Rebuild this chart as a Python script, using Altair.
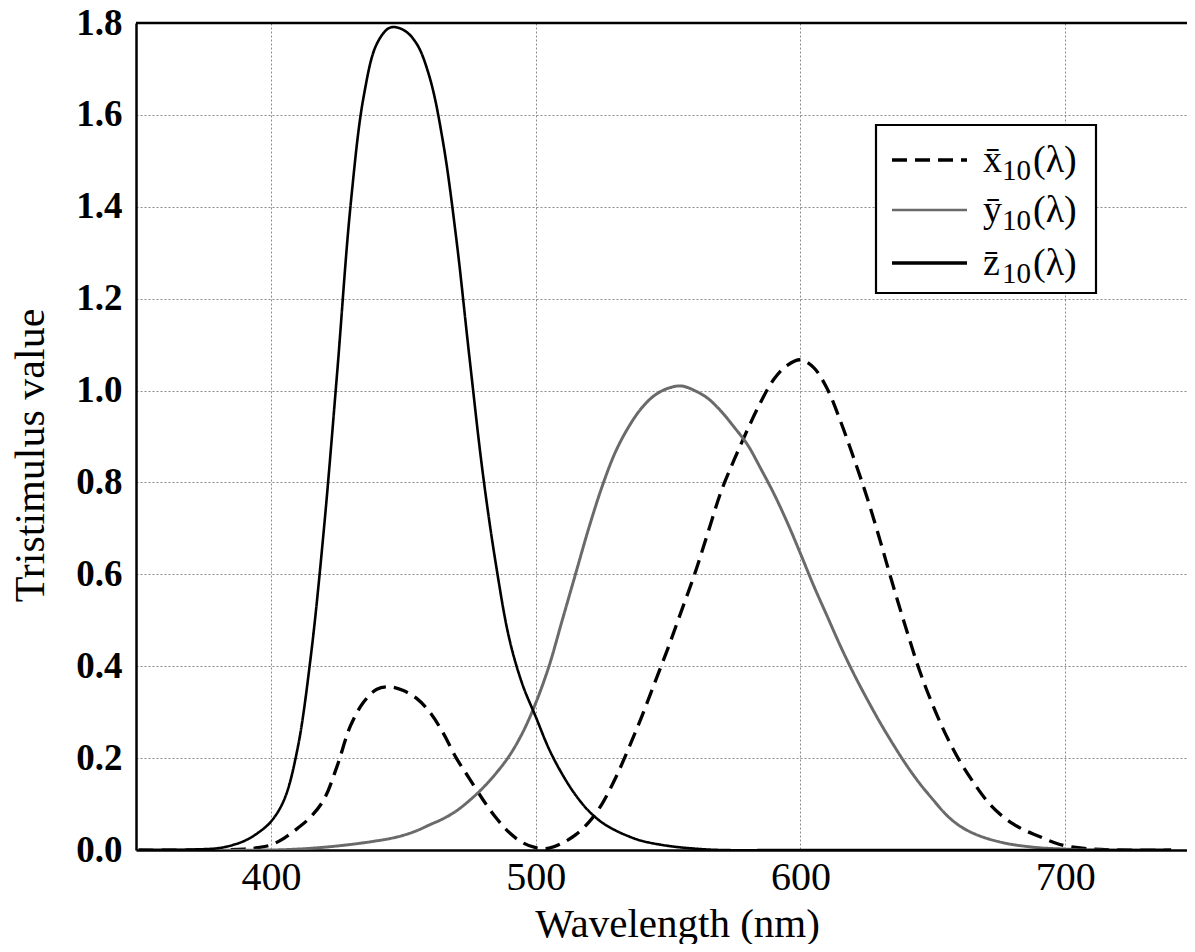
import altair as alt
import pandas as pd

# ---- data ----
series_keys = ["x", "y", "z"]

wl_x = [350, 380, 390, 395, 400, 405, 410, 415, 420, 425, 430, 435, 440, 445, 450, 455,
        460, 465, 470, 475, 480, 485, 490, 495, 500, 505, 510, 515, 520, 525, 530, 535,
        540, 545, 550, 555, 560, 565, 570, 575, 580, 585, 590, 595, 600, 605, 610, 615,
        620, 625, 630, 635, 640, 645, 650, 655, 660, 665, 670, 675, 680, 685, 690, 695,
        700, 710, 720, 740]
x_bar = [0.0, 0.0, 0.002, 0.005, 0.011, 0.026, 0.047, 0.072, 0.11, 0.183, 0.27, 0.322, 0.35, 0.355, 0.347, 0.33,
         0.30, 0.255, 0.20, 0.155, 0.11, 0.07, 0.038, 0.016, 0.005, 0.004, 0.015, 0.033, 0.06, 0.10, 0.155, 0.22,
         0.29, 0.365, 0.44, 0.52, 0.60, 0.69, 0.78, 0.85, 0.915, 0.975, 1.025, 1.055, 1.067, 1.05, 1.005, 0.935,
         0.855, 0.77, 0.675, 0.575, 0.48, 0.39, 0.315, 0.25, 0.195, 0.15, 0.11, 0.08, 0.058, 0.042, 0.03, 0.018,
         0.009, 0.002, 0.0, 0.0]

wl_y = [350, 400, 410, 420, 430, 440, 445, 450, 455, 460, 465, 470, 475, 480, 485, 490,
        495, 500, 505, 510, 515, 520, 525, 530, 535, 540, 545, 550, 555, 560, 565, 570,
        575, 580, 585, 590, 595, 600, 605, 610, 615, 620, 625, 630, 635, 640, 645, 650,
        655, 660, 665, 670, 675, 680, 690, 700, 710, 740]
y_bar = [0.0, 0.0, 0.002, 0.006, 0.012, 0.02, 0.025, 0.032, 0.042, 0.055, 0.068, 0.085, 0.108, 0.135, 0.167, 0.205,
         0.255, 0.32, 0.40, 0.50, 0.60, 0.70, 0.79, 0.865, 0.92, 0.962, 0.99, 1.005, 1.01, 1.0, 0.983, 0.955,
         0.92, 0.882, 0.83, 0.775, 0.713, 0.645, 0.575, 0.51, 0.445, 0.385, 0.33, 0.278, 0.23, 0.185, 0.145, 0.11,
         0.077, 0.053, 0.037, 0.026, 0.018, 0.012, 0.005, 0.002, 0.0, 0.0]

wl_z = [350, 370, 380, 385, 390, 395, 400, 405, 410, 415, 420, 425, 430, 435, 440, 445,
        450, 455, 460, 465, 470, 475, 480, 485, 490, 495, 500, 505, 510, 515, 520, 525,
        530, 535, 540, 550, 560, 570, 600, 740]
z_bar = [0.0, 0.001, 0.004, 0.01, 0.02, 0.037, 0.062, 0.11, 0.22, 0.42, 0.70, 1.04, 1.40, 1.64, 1.755, 1.79,
         1.785, 1.755, 1.68, 1.54, 1.33, 1.07, 0.82, 0.62, 0.46, 0.36, 0.29, 0.22, 0.165, 0.12, 0.085, 0.06,
         0.043, 0.03, 0.02, 0.009, 0.003, 0.0, 0.0, 0.0]

x_ticks = [400, 500, 600, 700]
y_ticks = [0.0, 0.2, 0.4, 0.6, 0.8, 1.0, 1.2, 1.4, 1.6, 1.8]

# legend texts: letter with overline, subscript, argument
legend_letters = ["x\u0304", "y\u0304", "z\u0304"]
legend_sub = ["10", "10", "10"]
legend_arg = ["(\u03bb)", "(\u03bb)", "(\u03bb)"]

# styles
colors = ["#000000", "#6a6a6a", "#000000"]
dashes = [[15, 8], [1, 0], [1, 0]]
widths = [3.3, 2.6, 3.4]

rows = []
for key, wl, vals in zip(series_keys, [wl_x, wl_y, wl_z], [x_bar, y_bar, z_bar]):
    rows += [{"wavelength": w, "value": v, "series": key} for w, v in zip(wl, vals)]
df = pd.DataFrame(rows)

W, H = 1051, 827
FONT = "Liberation Serif"

lines = alt.Chart(df).mark_line(interpolate="catmull-rom", clip=True).encode(
    x=alt.X("wavelength:Q",
            scale=alt.Scale(domain=[349, 746], nice=False, zero=False),
            axis=alt.Axis(values=x_ticks, format="d", title="Wavelength (nm)",
                          labelFontSize=40, labelPadding=7,
                          titleFontSize=41, titleX=541, titleY=86,
                          titleBaseline="alphabetic", titleAlign="center")),
    y=alt.Y("value:Q",
            scale=alt.Scale(domain=[0, 1.8], nice=False),
            axis=alt.Axis(values=y_ticks, format=".1f", title="Tristimulus value",
                          labelFontSize=37, labelFontWeight="bold", labelPadding=14,
                          titleFontSize=42, titleX=-93, titleY=432,
                          titleBaseline="alphabetic", titleAlign="center", titleAngle=270)),
    color=alt.Color("series:N", scale=alt.Scale(domain=series_keys, range=colors), legend=None),
    strokeDash=alt.StrokeDash("series:N", scale=alt.Scale(domain=series_keys, range=dashes), legend=None),
    strokeWidth=alt.StrokeWidth("series:N", scale=alt.Scale(domain=series_keys, range=widths), legend=None),
    order=alt.Order("wavelength:Q"),
)

one = pd.DataFrame({"a": [0]})

top_border = alt.Chart(one).mark_rule(color="black", strokeWidth=2.5).encode(
    x=alt.value(0), x2=alt.value(W), y=alt.value(0)
)

# ---- legend box (drawn by hand so that it matches the reference) ----
LX0, LX1, LY0, LY1 = 740, 960, 102, 270
legend_box = alt.Chart(one).mark_rect(fill="white", stroke="black", strokeWidth=2.2).encode(
    x=alt.value(LX0), x2=alt.value(LX1), y=alt.value(LY0), y2=alt.value(LY1)
)
layers = [lines, top_border, legend_box]
row_y = [137, 187, 240]
for i in range(3):
    cy = row_y[i]
    layers.append(
        alt.Chart(one).mark_rule(color=colors[i], strokeDash=dashes[i], strokeWidth=widths[i]).encode(
            x=alt.value(756), x2=alt.value(831), y=alt.value(cy)
        )
    )
    layers.append(
        alt.Chart(one).mark_text(text=legend_letters[i], font=FONT, fontSize=38, align="left",
                                 baseline="alphabetic", color="black").encode(
            x=alt.value(847), y=alt.value(cy + 12)
        )
    )
    layers.append(
        alt.Chart(one).mark_text(text=legend_sub[i], font=FONT, fontSize=29, align="left",
                                 baseline="alphabetic", color="black").encode(
            x=alt.value(866), y=alt.value(cy + 20)
        )
    )
    layers.append(
        alt.Chart(one).mark_text(text=legend_arg[i], font=FONT, fontSize=38, align="left",
                                 baseline="alphabetic", color="black").encode(
            x=alt.value(897), y=alt.value(cy + 12)
        )
    )

chart = alt.layer(*layers).properties(
    width=W, height=H,
    autosize=alt.AutoSizeParams(type="none"),
    padding={"left": 128, "top": 15, "right": 0, "bottom": 94},
    background="white",
).configure_view(stroke=None).configure_axis(
    domainColor="black", domainWidth=2.5, ticks=False,
    grid=True, gridColor="#8a8a8a", gridDash=[2, 2], gridWidth=1,
    labelFont=FONT, labelColor="black",
    titleFont=FONT, titleColor="black", titleFontWeight="normal",
)

chart.save("out.html", embed_options={"renderer": "svg", "actions": False})
